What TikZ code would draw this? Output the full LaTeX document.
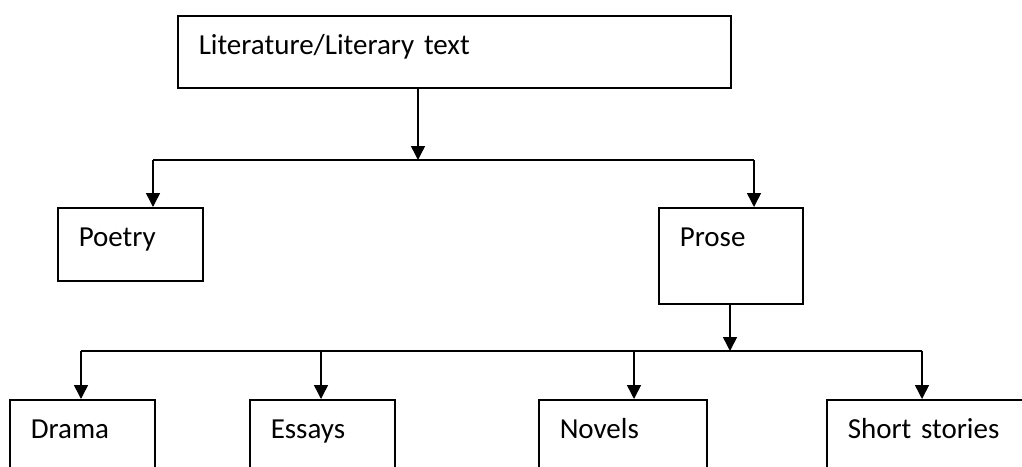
\documentclass[tikz,border=0pt]{standalone}
\usepackage{fontspec}
\setmainfont{Carlito}
\usetikzlibrary{arrows.meta,positioning}

\tikzset{
  box/.style={draw, line width=1.5pt, anchor=north west, inner sep=0pt,
    inner xsep=21pt, text height=39pt, align=left,
    font=\fontsize{29}{34}\selectfont},
  arr/.style={line width=1.5pt, -{Triangle[length=14pt,width=14pt]}}
}

\begin{document}
\begin{tikzpicture}[x=1pt,y=-1pt]
  \clip (0,0) rectangle (1022,466);

  % boxes
  \node [box, text width=511pt, text depth=33pt]  (lit)    at (177,15)  {Literature/Literary text};
  \node [box, text width=103pt, text depth=34pt]  (poetry) at (57,207)  {Poetry};
  \node [box, text width=102pt, text depth=57pt]  (prose)  at (658,207) {Prose};
  \node [box, text width=103pt, text depth=40pt]  (drama)  at (9,399)   {Drama};
  \node [box, text width=103pt, text depth=40pt]  (essays) at (249,399) {Essays};
  \node [box, text width=126pt, text depth=40pt]  (novels) at (538,399) {Novels};
  \node [box, text width=158pt, text depth=40pt]  (short)  at (826,399) {Short stories};

  % first level
  \coordinate (topfork) at (418,160);
  \coordinate (tl) at (153,160);
  \coordinate (tr) at (754,160);
  \draw [arr] (lit.south -| topfork) -- (topfork);
  \draw [line width=1.5pt] (tl) -- (tr);
  \draw [arr] (tl) -- (tl |- poetry.north);
  \draw [arr] (tr) -- (tr |- prose.north);

  % second level
  \coordinate (subfork) at (730,351);
  \coordinate (b1) at (81,351);
  \coordinate (b2) at (321,351);
  \coordinate (b3) at (634,351);
  \coordinate (b4) at (922,351);
  \draw [arr] (prose.south -| subfork) -- (subfork);
  \draw [line width=1.5pt] (b1) -- (b4);
  \draw [arr] (b1) -- (b1 |- drama.north);
  \draw [arr] (b2) -- (b2 |- essays.north);
  \draw [arr] (b3) -- (b3 |- novels.north);
  \draw [arr] (b4) -- (b4 |- short.north);
\end{tikzpicture}
\end{document}
